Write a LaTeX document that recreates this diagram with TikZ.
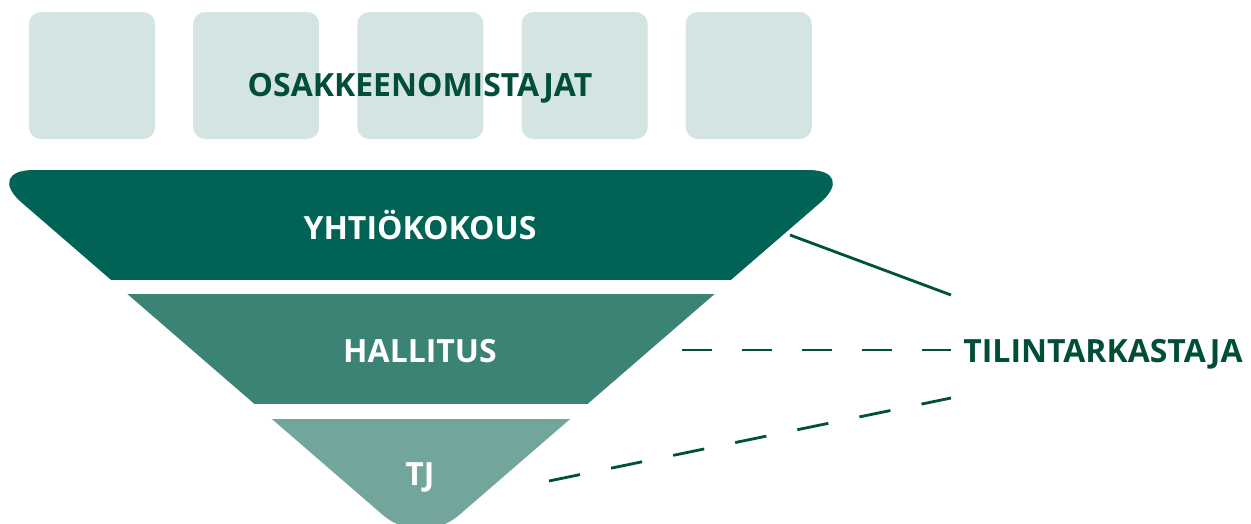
\documentclass[tikz,border=0pt]{standalone}
\usepackage{fontspec}
\setmainfont{Open Sans}
\usetikzlibrary{positioning}
\definecolor{boxgrey}{HTML}{D4E4E2}
\definecolor{segone}{HTML}{006355}
\definecolor{segtwo}{HTML}{3A8375}
\definecolor{segthree}{HTML}{72A69C}
\definecolor{darkgreen}{HTML}{004D3A}
\definecolor{linegreen}{HTML}{00503F}

\begin{document}
\begin{tikzpicture}[x=0.02cm,y=-0.02cm,
  lbl/.style={font=\bfseries\fontsize{18.2}{22}\selectfont, anchor=base, inner sep=0pt},
  owner/.style={fill=boxgrey, rounded corners=0.24cm},
  link/.style={draw=linegreen, line width=1.6pt}]
\useasboundingbox (0,0) rectangle (1251,524);

% owners
\foreach \i in {0,...,4}
  \fill[owner] ({29+164.2*\i},12) rectangle ++(126,127);
\node[lbl, text=darkgreen] (owners) at (420,96) {OSAKKEENOMISTAJAT};

% funnel
\coordinate (tl) at (-16,170);
\coordinate (tr) at (858,170);
\coordinate (apex) at (421,548);
\begin{scope}
\clip (0,170) rectangle (1251,279);
\fill[segone, rounded corners=1cm] (tl) -- (tr) -- (apex) -- cycle;
\end{scope}
\begin{scope}
\clip (0,294) rectangle (1251,403);
\fill[segtwo, rounded corners=1cm] (tl) -- (tr) -- (apex) -- cycle;
\end{scope}
\begin{scope}
\clip (0,419) rectangle (1251,560);
\fill[segthree, rounded corners=1cm] (tl) -- (tr) -- (apex) -- cycle;
\end{scope}

\node[lbl, text=white] (yk) at (420,239) {YHTIÖKOKOUS};
\node[lbl, text=white] (hallitus) at (420,362) {HALLITUS};
\node[lbl, text=white] (tj) at (420,485) {TJ};
\node[lbl, text=darkgreen, anchor=base west] (tilin) at (963,362) {TILINTARKASTAJA};

% connectors
\coordinate (ykend) at (790,235);
\coordinate (hend) at (682,350);
\coordinate (tjend) at (549,481);
\coordinate (t1) at (951,295);
\coordinate (t2) at (951,350);
\coordinate (t3) at (951,398);
\draw[link] (ykend) -- (t1);
\draw[link, dash pattern=on 0.6cm off 0.6cm] (hend) -- (t2);
\draw[link, dash pattern=on 0.634cm off 0.634cm] (tjend) -- (t3);
\end{tikzpicture}
\end{document}
